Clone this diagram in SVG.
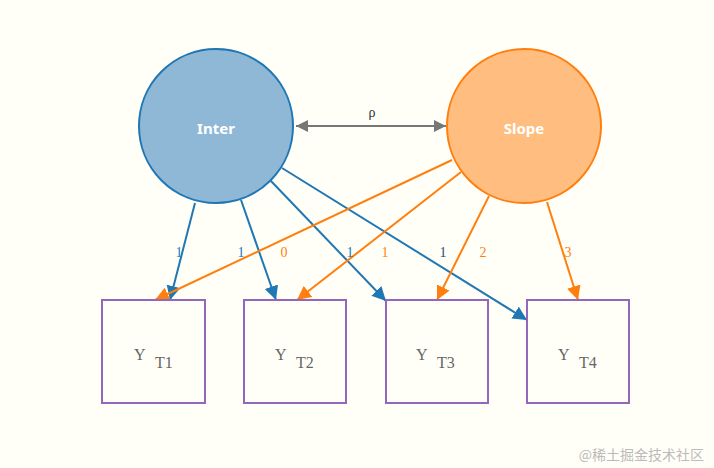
<svg xmlns="http://www.w3.org/2000/svg" width="714" height="468" viewBox="0 0 714 468">
<defs>
<style>
.b{stroke:#1f77b4;stroke-width:2;fill:none}
.o{stroke:#ff7f0e;stroke-width:2;fill:none}
.box{fill:none;stroke:#9467bd;stroke-width:2}
.lb{font-family:"Liberation Serif",serif;font-size:14px;text-anchor:middle}
.y{font-family:"Liberation Serif",serif;fill:#666;font-size:16px}
.n{font-family:"Noto Sans",sans-serif;font-size:15px;fill:#fff;text-anchor:middle;font-weight:bold}
</style>
<marker id="ab" viewBox="0 0 10 10" refX="10" refY="5" markerWidth="7" markerHeight="7" orient="auto"><path d="M0,0L10,5L0,10z" fill="#1f77b4"/></marker>
<marker id="ao" viewBox="0 0 10 10" refX="10" refY="5" markerWidth="7" markerHeight="7" orient="auto"><path d="M0,0L10,5L0,10z" fill="#ff7f0e"/></marker>
<marker id="ag" viewBox="0 0 10 10" refX="10" refY="5" markerWidth="6" markerHeight="6" orient="auto-start-reverse"><path d="M0,0L10,5L0,10z" fill="#777"/></marker>
</defs>
<rect width="714" height="468" fill="#fffff8"/>
<g id="connectors">
<line x1="296" y1="126" x2="446" y2="126" stroke="#777" stroke-width="2" marker-start="url(#ag)" marker-end="url(#ag)"/>
<line class="b" x1="195" y1="203" x2="170" y2="300" marker-end="url(#ab)"/>
<line class="b" x1="241" y1="200" x2="276" y2="300" marker-end="url(#ab)"/>
<line class="b" x1="270" y1="180" x2="386" y2="301" marker-end="url(#ab)"/>
<line class="b" x1="282" y1="168" x2="527" y2="320" marker-end="url(#ab)"/>
<line class="o" x1="452" y1="160" x2="155" y2="300" marker-end="url(#ao)"/>
<line class="o" x1="461" y1="172" x2="297" y2="300" marker-end="url(#ao)"/>
<line class="o" x1="489" y1="196" x2="437" y2="300" marker-end="url(#ao)"/>
<line class="o" x1="547" y1="202" x2="578" y2="300" marker-end="url(#ao)"/>
<text class="lb" x="372" y="117" fill="#333">ρ</text>
<text class="lb" x="179" y="257" fill="#1f77b4">1</text>
<text class="lb" x="241" y="257" fill="#1f77b4">1</text>
<text class="lb" x="284" y="257" fill="#ff7f0e">0</text>
<text class="lb" x="350" y="257" fill="#1f77b4">1</text>
<text class="lb" x="385" y="257" fill="#ff7f0e">1</text>
<text class="lb" x="443" y="257" fill="#1f4e79">1</text>
<text class="lb" x="483" y="257" fill="#ff7f0e">2</text>
<text class="lb" x="568" y="257" fill="#ff7f0e">3</text>
</g>
<g id="inter"><circle cx="216" cy="126" r="77" fill="#8fb8d6" stroke="#1f77b4" stroke-width="2"/><text class="n" x="216" y="134">Inter</text></g>
<g id="slope"><circle cx="524" cy="126" r="77" fill="#ffbe80" stroke="#ff7f0e" stroke-width="2"/><text class="n" x="524" y="134">Slope</text></g>
<g id="t1"><rect class="box" x="102" y="300" width="103" height="103"/><text class="y" x="134" y="360">Y</text><text class="y" x="155" y="368">T1</text></g>
<g id="t2"><rect class="box" x="244" y="300" width="102" height="103"/><text class="y" x="275" y="360">Y</text><text class="y" x="296" y="368">T2</text></g>
<g id="t3"><rect class="box" x="386" y="300" width="102" height="103"/><text class="y" x="416" y="360">Y</text><text class="y" x="437" y="368">T3</text></g>
<g id="t4"><rect class="box" x="527" y="300" width="102" height="103"/><text class="y" x="558" y="360">Y</text><text class="y" x="579" y="368">T4</text></g>
<text x="704" y="460" text-anchor="end" font-family="'Noto Sans CJK SC',sans-serif" font-size="14" fill="#bbb">@稀土掘金技术社区</text>
</svg>
